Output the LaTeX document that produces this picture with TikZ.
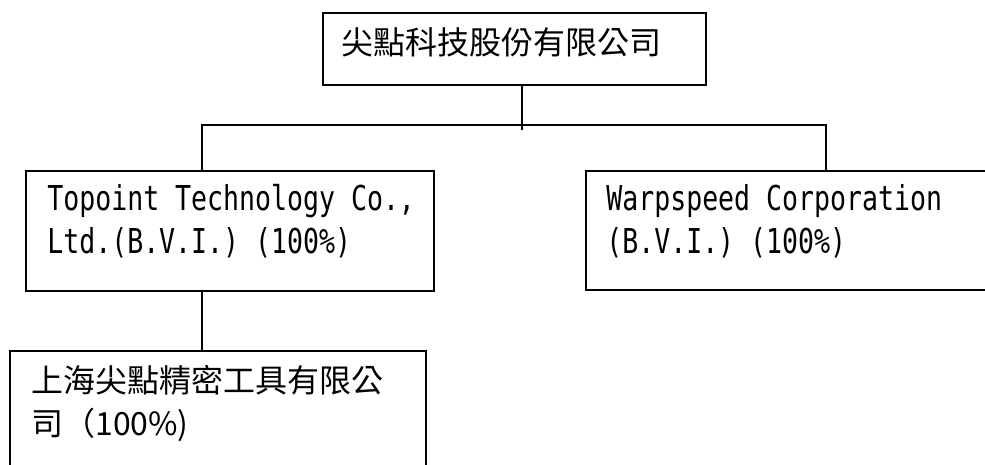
\documentclass[tikz,border=0pt]{standalone}
\usepackage{fontspec}
\setmainfont{Noto Sans CJK TC}
\newfontfamily\monolatin[FakeStretch=0.775]{DejaVu Sans Mono}

\tikzset{
  box/.style={draw,line width=1.1pt,inner sep=0pt,outer sep=0pt},
  wire/.style={line width=1.1pt},
  txt/.style={anchor=base west,inner sep=0pt,font=\fontsize{18.2}{24}\selectfont},
  mono/.style={anchor=base west,inner sep=0pt,font=\fontsize{19.5}{24}\monolatin}
}

\begin{document}
\begin{tikzpicture}[x=0.02cm,y=-0.02cm]
  \useasboundingbox (0,0) rectangle (985,465);
  \clip (0,0) rectangle (985,465);
  % boxes
  \node[box,minimum width=7.66cm,minimum height=1.44cm] (parent) at (514.5,49) {};
  \node[box,minimum width=8.16cm,minimum height=2.4cm] (topoint) at (230,231) {};
  \node[box,minimum width=8.28cm,minimum height=2.38cm] (warp) at (793,230.5) {};
  \node[box,minimum width=8.32cm,minimum height=2.58cm] (shanghai) at (218,415.5) {};
  % names
  \node[txt] (parentname) at (341,55) {尖點科技股份有限公司};
  \node[mono] (topoint1) at (47,211) {Topoint Technology Co.,};
  \node[mono] (topoint2) at (47,254) {Ltd.(B.V.I.) (100\%)};
  \node[mono] (warp1) at (606,211) {Warpspeed Corporation};
  \node[mono] (warp2) at (606,254) {(B.V.I.) (100\%)};
  \node[txt] (shanghai1) at (31,393) {上海尖點精密工具有限公};
  \node[txt] (shanghai2) at (31,436) {司（100\%)};
  % lines
  \coordinate (trunk) at (522,125);
  \coordinate (dropL) at (202,125);
  \coordinate (dropR) at (826,125);
  \draw[wire] (trunk |- parent.south) -- (trunk) -- ++(0,5);
  \draw[wire] (dropL |- topoint.north) -- (dropL) -- (dropR) -- (dropR |- warp.north);
  \draw[wire] (dropL |- topoint.south) -- (dropL |- shanghai.north);
\end{tikzpicture}
\end{document}
